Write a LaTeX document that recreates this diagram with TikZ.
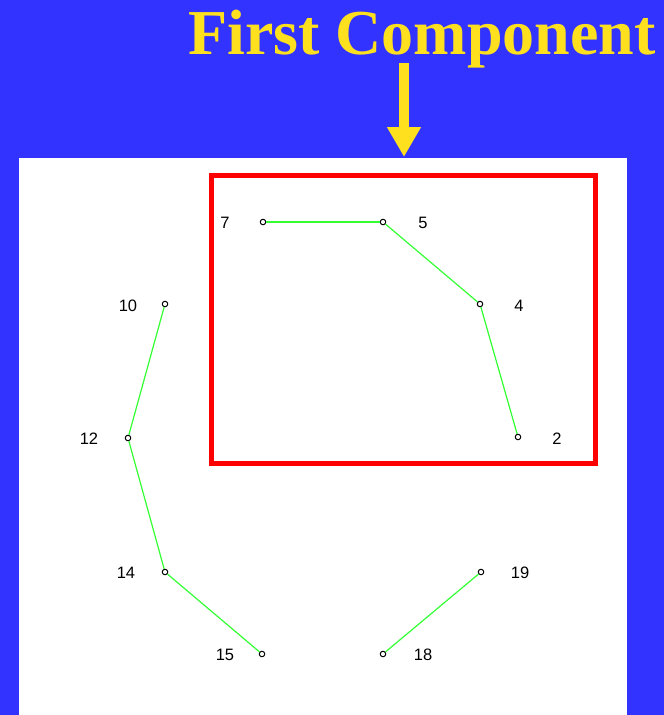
\documentclass[tikz,border=0pt]{standalone}
\usepackage{fontspec}
\setmainfont{Liberation Serif}
\newfontfamily\labelfont{Liberation Sans}
\usetikzlibrary{arrows.meta}
\definecolor{bgblue}{HTML}{3333FF}
\definecolor{titleyellow}{HTML}{FFE01E}
\definecolor{edgegreen}{HTML}{33FF33}
\definecolor{boxred}{HTML}{FF0000}
\tikzset{
  vtx/.style={circle,draw=black,fill=white,line width=1pt,inner sep=0pt,minimum size=5.5pt},
  lbl/.style={font=\labelfont\fontsize{16.5}{16.5}\selectfont,text=black,inner sep=0pt},
  edge/.style={draw=edgegreen,line width=1.2pt},
}
\begin{document}
\begin{tikzpicture}[x=1pt,y=-1pt]
\useasboundingbox (0,0) rectangle (664,715);
\fill[bgblue] (0,0) rectangle (664,715);
\fill[white] (19,158) rectangle (627,715);
\node[font=\bfseries\fontsize{64}{64}\selectfont,text=titleyellow,inner sep=0pt,anchor=base] (title) at (422,54) {First Component};
\coordinate (ashaft) at (404,63);
\coordinate (atip) at (404,157);
\draw[titleyellow,line width=10pt,-{Triangle[length=30pt,width=32pt]}] (ashaft) -- (atip);
\draw[boxred,line width=5pt] (211,175) rectangle (595,463);
% vertices
\node[vtx] (n7) at (263,222) {};
\node[vtx] (n5) at (383,222) {};
\node[vtx] (n4) at (480,304) {};
\node[vtx] (n2) at (518,437) {};
\node[vtx] (n10) at (165,304) {};
\node[vtx] (n12) at (128,438) {};
\node[vtx] (n14) at (165,572) {};
\node[vtx] (n15) at (262,654) {};
\node[vtx] (n18) at (383,654) {};
\node[vtx] (n19) at (481,572) {};
% edges
\draw[edge] (n7) -- (n5);
\draw[edge] (n5) -- (n4);
\draw[edge] (n4) -- (n2);
\draw[edge] (n10) -- (n12);
\draw[edge] (n12) -- (n14);
\draw[edge] (n14) -- (n15);
\draw[edge] (n18) -- (n19);
% labels
\node[lbl] (l7) at (225,223) {7};
\node[lbl] (l5) at (423,223) {5};
\node[lbl] (l4) at (519,306) {4};
\node[lbl] (l2) at (557,439) {2};
\node[lbl] (l10) at (128,306) {10};
\node[lbl] (l12) at (89,439) {12};
\node[lbl] (l14) at (126,573) {14};
\node[lbl] (l15) at (225,655) {15};
\node[lbl] (l18) at (423,655) {18};
\node[lbl] (l19) at (520,573) {19};
\end{tikzpicture}
\end{document}
